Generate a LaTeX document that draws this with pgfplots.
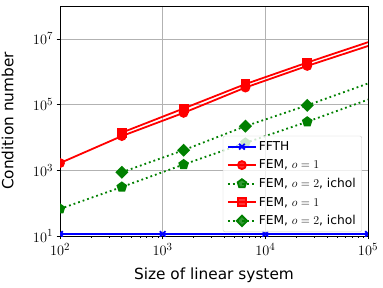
\documentclass[border=0pt]{standalone}
\usepackage{fontspec}
\setmainfont{DejaVu Sans}
\usepackage{pgfplots}
\pgfplotsset{compat=1.18}
\definecolor{mplgreen}{rgb}{0,0.5,0}
\begin{document}
\begin{tikzpicture}
\begin{axis}[
  at={(0,0)}, anchor=south west,
  scale only axis, width=308bp, height=230bp,
  xmode=log, ymode=log,
  xmin=1e2, xmax=1e5, ymin=1e1, ymax=1e8,
  xtick={1e2,1e3,1e4,1e5},
  ytick={1e1,1e3,1e5,1e7},
  yminorticks=false,
  grid=major,
  major grid style={color=black!30, line width=0.7bp},
  tick align=outside,
  tick pos=left,
  major tick length=3.5bp, minor tick length=2bp,
  every tick/.style={black, line width=0.7bp},
  axis line style={line width=0.9bp},
  tick label style={font=\fontsize{15}{18}\selectfont},
  label style={font=\fontsize{15.4}{18}\selectfont},
  xlabel={Size of linear system},
  ylabel={Condition number},
  xlabel style={at={(axis description cs:0.5,-0.17)}, anchor=center},
  ylabel style={at={(axis description cs:-0.17,0.5)}, anchor=center},
  clip marker paths=true,
  legend cell align=left,
  legend style={at={(1,0)}, anchor=south east, xshift=-6bp, yshift=4bp,
    draw=black!20, rounded corners=2bp, fill=white, fill opacity=0.8, text opacity=1,
    font=\fontsize{12.3}{14}\selectfont, row sep=4bp, inner xsep=4bp, inner ysep=3.5bp,
    /tikz/every even column/.append style={column sep=5bp}},
  legend image code/.code={\draw[mark repeat=2,mark phase=2,#1] plot coordinates {(0bp,0bp) (14bp,0bp) (28bp,0bp)};},
]
\addplot[blue, line width=1.8bp, mark=x, mark size=4bp] coordinates {
(100,11.5) (1000,11.5) (10000,11.5) (100000,11.5)};
\addlegendentry{FFTH}
\addplot[red, line width=1.8bp, mark=*, mark size=4bp] coordinates {
(100,1660) (400,1.1e4) (1600,5.6e4) (6400,3.3e5) (25600,1.5e6) (102400,6.2e6)};
\addlegendentry{FEM, $o=1$}
\addplot[mplgreen, line width=1.8bp, dash pattern=on 1.8bp off 3bp, mark=pentagon*, mark size=4.5bp, mark options={solid}] coordinates {
(100,67) (400,310) (1600,1500) (6400,6800) (25600,3.0e4) (102400,1.45e5)};
\addlegendentry{FEM, $o=2$, ichol}
\addplot[red, line width=1.8bp, mark=square*, mark size=4bp] coordinates {
(400,1.4e4) (1600,7.6e4) (6400,4.2e5) (25600,1.9e6) (102400,8.1e6)};
\addlegendentry{FEM, $o=1$}
\addplot[mplgreen, line width=1.8bp, dash pattern=on 1.8bp off 3bp, mark=square*, mark size=3.7bp, mark options={solid, rotate=45}] coordinates {
(400,870) (1600,4100) (6400,2.2e4) (25600,9.5e4) (102400,4.5e5)};
\addlegendentry{FEM, $o=2$, ichol}
\end{axis}
\pgfresetboundingbox
\path[use as bounding box] (-60bp,-52bp) rectangle (323bp,236bp);
\end{tikzpicture}
\end{document}
